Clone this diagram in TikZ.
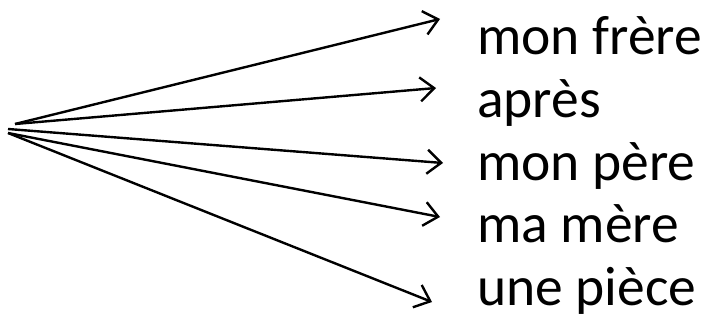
\documentclass[tikz,border=0pt]{standalone}
\usepackage{fontspec}
\setmainfont{Carlito}
\usetikzlibrary{arrows.meta}
\begin{document}
\begin{tikzpicture}[x=1pt,y=-1pt,
  lbl/.style={anchor=base west,inner sep=0pt,font=\fontsize{55.5}{60}\selectfont},
  conn/.style={line width=2.4pt,-{Straight Barb[length=14pt,width=24pt,line width=2.4pt]}}]
\useasboundingbox (0,0) rectangle (702,321);
\coordinate (sa) at (15,124);
\coordinate (sb) at (8,129);
\coordinate (sc) at (8,133);
\coordinate (t1) at (440,19);
\coordinate (t2) at (436,88);
\coordinate (t3) at (443,163);
\coordinate (t4) at (440,217);
\coordinate (t5) at (432,302);
\node[lbl] (w1) at (477,55) {mon frère};
\node[lbl] (w2) at (477,117.5) {après};
\node[lbl] (w3) at (477,180) {mon père};
\node[lbl] (w4) at (477,242.5) {ma mère};
\node[lbl] (w5) at (477,305) {une pièce};
\draw[conn] (sa) -- (t1);
\draw[conn] (sa) -- (t2);
\draw[conn] (sb) -- (t3);
\draw[conn] (sc) -- (t4);
\draw[conn] (sc) -- (t5);
\end{tikzpicture}
\end{document}
